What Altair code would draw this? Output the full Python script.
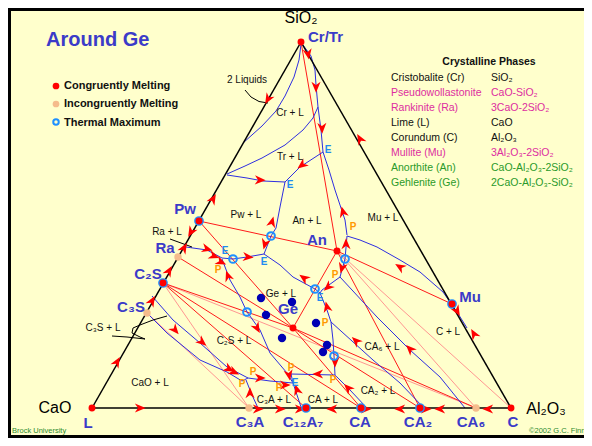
import altair as alt
import pandas as pd

# ---------------- data (pixel-space positions) ----------------
cmp_name = ["CrTr", "L", "C", "An", "Ge", "Pw", "Ra", "C2S", "C3S", "C3A", "C12A7", "CA", "CA2", "CA6", "Mu"]
cmp_x = [301, 92, 511, 337, 293, 199, 178, 163, 147, 249, 306, 361, 420, 476, 452]
cmp_y = [42, 408, 408, 251, 328, 221, 257, 283, 313, 408, 408, 408, 408, 408, 304]
P = {n: (x, y) for n, x, y in zip(cmp_name, cmp_x, cmp_y)}

congruent = ["CrTr", "L", "C", "An", "Ge", "Pw", "C2S", "C12A7", "CA", "CA2", "Mu"]
incongruent = ["Ra", "C3S", "C3A", "CA6"]
ringed = ["Pw", "C2S", "C12A7", "CA", "CA2", "Mu"]

thermal_x = [271, 233, 247, 315, 345, 334]
thermal_y = [236, 259, 312, 289, 259, 356]

tie_dark = [("CrTr", "An"), ("Pw", "An"), ("Pw", "Ge"), ("An", "Ge"), ("Ra", "Ge"), ("C2S", "Ge"),
            ("C2S", "CA"), ("C2S", "C12A7"), ("Ge", "CA"), ("Ge", "CA2"), ("Ge", "CA6"), ("An", "Mu"),
            ("An", "CA2")]
tie_light = [("C2S", "C3A"), ("C3S", "C3A"), ("An", "CA6"), ("An", "C"), ("C2S", "CA6")]

triangle = [("L", "CrTr"), ("CrTr", "C"), ("L", "C")]

blue_curves = [
    [(301, 44), (299, 60), (294, 77), (285, 96), (276, 111), (262, 126), (243, 143)],
    [(227, 174), (245, 166), (262, 158), (285, 145), (303, 130), (313, 118), (318, 107)],
    [(303, 45), (311, 56), (315, 70), (316, 85), (318, 107), (321, 130), (323, 152), (329, 170),
     (335, 190), (340, 205), (345, 220), (347, 235)],
    [(323, 152), (300, 167), (285, 182)],
    [(227, 175), (247, 178), (263, 181), (285, 182)],
    [(285, 182), (280, 207), (276, 228), (271, 236), (264, 254)],
    [(347, 236), (360, 240), (377, 247), (400, 260), (420, 272), (443, 292), (457, 312), (467, 328)],
    [(347, 236), (345, 259), (340, 277)],
    [(340, 277), (322, 290), (320, 293)],
    [(340, 277), (377, 317), (410, 350), (440, 377), (465, 408)],
    [(320, 293), (327, 310), (331, 322), (333, 340), (334, 356), (335, 375)],
    [(331, 322), (373, 360), (400, 383), (423, 407)],
    [(335, 375), (350, 390), (366, 407)],
    [(335, 375), (291, 374), (293, 383)],
    [(293, 383), (297, 395), (301, 407)],
    [(264, 254), (280, 265), (293, 277), (315, 289), (320, 293)],
    [(186, 247), (207, 250), (222, 258), (233, 259), (247, 257), (264, 254)],
    [(222, 259), (230, 280), (240, 297), (247, 312), (260, 330), (270, 353), (287, 373), (293, 383)],
    [(152, 296), (173, 320), (200, 343), (227, 367), (248, 378), (270, 381), (293, 383)],
    [(147, 313), (167, 333), (200, 360), (227, 372), (242, 381), (248, 378)],
    [(246, 380), (252, 395), (258, 408)],
]

black_leaders = [
    [(245, 90), (251, 97), (259, 101.5), (268, 103)],
    [(170, 239), (192, 247)],
    [(112, 336), (127, 337), (145, 339), (140, 337), (132, 333), (133, 328), (140, 325), (153, 320), (167, 316)],
]

arrow_x = [308, 316, 322, 268, 360, 260, 302, 213, 272, 343, 191, 184, 169, 152, 117, 140,
           207, 214, 221, 228, 248, 265,
           304, 328, 327, 346, 342, 400, 257, 335, 318, 289, 297, 348, 356, 410, 457, 474,
           175, 202, 229, 234, 260, 250, 285,
           258, 280, 300, 332, 366, 400, 426, 440, 488]
arrow_y = [54, 87, 128, 99, 139, 180, 165, 199, 222, 212, 232, 248, 271, 301, 362, 408,
           249, 256, 262, 276, 257, 244,
           278, 287, 307, 244, 268, 267, 328, 362, 374, 375, 390, 388, 341, 349, 311, 334,
           330, 342, 369, 372, 378, 393, 385,
           409, 409, 409, 409, 409, 409, 409, 409, 409]
arrow_angle = [170, 180, 178, 210, 330, 92, 232, 30, 15, 345, 210, 30, 30, 30, 30, 90,
               105, 110, 115, 340, 95, 195,
               305, 228, 347, 0, 195, 302, 150, 180, 270, 170, 342, 316, 313, 316, 150, 330,
               140, 130, 120, 115, 90, 0, 90,
               90, 90, 90, 270, 90, 270, 90, 270, 270]

dot_x = [261, 292, 266, 316, 282, 327, 323]
dot_y = [298, 302, 315, 323, 338, 345, 352]

field_text = ["2 Liquids", "Cr + L", "Tr + L", "Pw + L", "An + L", "Mu + L", "Ra + L", "Ge + L",
              "C\u2083S + L", "C\u2082S + L", "CaO + L", "C\u2083A + L", "CA + L", "CA\u2082 + L",
              "CA\u2086 + L", "C + L"]
field_x = [247, 290, 290, 246, 307, 383, 167, 281, 103, 234, 150, 274, 323, 378, 382, 448]
field_y = [80, 113, 157, 215, 221, 218, 232, 294, 328, 341, 383, 400, 400, 391, 347, 332]

p_x = [218, 353, 335, 325, 333, 291, 253, 242, 279]
p_y = [270, 227, 275, 323, 380, 368, 372, 384, 388]
e_x = [328, 290, 225, 264, 320, 295]
e_y = [150, 185, 251, 262, 298, 383]

cmp_label = ["Cr/Tr", "Pw", "Ra", "C\u2082S", "C\u2083S", "An", "Ge", "Mu", "L", "C\u2083A",
             "C\u2081\u2082A\u2087", "CA", "CA\u2082", "CA\u2086", "C"]
cmp_lx = [308, 185, 165, 148, 131, 317, 288, 470, 88, 250, 303, 360, 418, 471, 513]
cmp_ly = [37, 209, 248, 274, 307, 240, 309, 297, 423, 422, 422, 422, 422, 422, 422]
cmp_la = ["left"] + ["center"] * 14

vert_text = ["SiO\u2082", "CaO", "Al\u2082O\u2083"]
vert_x = [301, 55, 546]
vert_y = [18, 408, 409]

legend_text = ["Congruently Melting", "Incongruently Melting", "Thermal Maximum"]
legend_y = [86, 104, 123]

phase_names = ["Cristobalite (Cr)", "Pseudowollastonite", "Rankinite (Ra)", "Lime (L)",
               "Corundum (C)", "Mullite (Mu)", "Anorthite (An)", "Gehlenite (Ge)"]
phase_formula = ["SiO\u2082", "CaO-SiO\u2082", "3CaO-2SiO\u2082", "CaO", "Al\u2082O\u2083",
                 "3Al\u2082O\u2083-2SiO\u2082", "CaO-Al\u2082O\u2083-2SiO\u2082",
                 "2CaO-Al\u2082O\u2083-SiO\u2082"]
phase_color = ["#111111", "#DD2DA0", "#DD2DA0", "#111111", "#111111", "#DD2DA0", "#2A9A2A", "#2A9A2A"]
phase_y = [78, 93, 108, 123, 138, 153, 168, 183]

# ---------------- chart ----------------
W, H = 576, 430
FONT = "Liberation Sans"
xs = alt.Scale(domain=[8, 8 + W], nice=False, zero=False)
ys = alt.Scale(domain=[8, 8 + H], nice=False, zero=False, reverse=True)


def base(df):
    return alt.Chart(df).encode(
        x=alt.X("x:Q", scale=xs, axis=None),
        y=alt.Y("y:Q", scale=ys, axis=None),
    )


def seg_df(pairs):
    rows = []
    for i, (a, b) in enumerate(pairs):
        rows.append({"id": i, "k": 0, "x": P[a][0], "y": P[a][1]})
        rows.append({"id": i, "k": 1, "x": P[b][0], "y": P[b][1]})
    return pd.DataFrame(rows)


def poly_df(polys):
    rows = []
    for i, pl in enumerate(polys):
        for k, (x, y) in enumerate(pl):
            rows.append({"id": i, "k": k, "x": x, "y": y})
    return pd.DataFrame(rows)


def lines(df, color, width):
    return base(df).mark_line(color=color, strokeWidth=width).encode(
        detail="id:N", order="k:O")


layers = []
layers.append(lines(seg_df(tie_light), "#FF8A8A", 0.9))
layers.append(lines(seg_df(tie_dark), "#FF1A1A", 1.0))
layers.append(lines(poly_df(blue_curves), "#2E2EE0", 1.0))
layers.append(lines(seg_df(triangle), "#000000", 1.5))
layers.append(lines(poly_df(black_leaders), "#000000", 1.0))

arrow_shape = "M0,-1L0.8,0.9L0,0.35L-0.8,0.9Z"
adf = pd.DataFrame({"x": arrow_x, "y": arrow_y, "a": arrow_angle})
layers.append(base(adf).mark_point(shape=arrow_shape, filled=True, color="#FF0000", size=130,
                                   opacity=1, strokeWidth=0).encode(angle=alt.Angle("a:Q", scale=None)))

layers.append(base(pd.DataFrame({"x": dot_x, "y": dot_y})).mark_circle(
    color="#0000B4", size=70, opacity=1))

ring_df = pd.DataFrame({"x": [P[n][0] for n in ringed] + thermal_x,
                        "y": [P[n][1] for n in ringed] + thermal_y})
layers.append(base(ring_df).mark_point(shape="circle", filled=False, color="#1E90FF",
                                       strokeWidth=2, size=60, opacity=1))
layers.append(base(pd.DataFrame({"x": [P[n][0] for n in congruent],
                                 "y": [P[n][1] for n in congruent]})).mark_circle(
    color="#FF0000", size=48, opacity=1))
layers.append(base(pd.DataFrame({"x": [P[n][0] for n in incongruent],
                                 "y": [P[n][1] for n in incongruent]})).mark_circle(
    color="#F5BC8C", size=55, opacity=1))


def texts(df, **kw):
    params = dict(font=FONT, baseline="middle")
    params.update(kw)
    return base(df).mark_text(**params).encode(text="t:N")


layers.append(texts(pd.DataFrame({"x": field_x, "y": field_y, "t": field_text}),
                    fontSize=10, color="#111111"))
layers.append(texts(pd.DataFrame({"x": p_x, "y": p_y, "t": ["P"] * len(p_x)}),
                    fontSize=10, fontWeight="bold", color="#FF9900"))
layers.append(texts(pd.DataFrame({"x": e_x, "y": e_y, "t": ["E"] * len(e_x)}),
                    fontSize=10, fontWeight="bold", color="#1E8CF0"))
cdf = pd.DataFrame({"x": cmp_lx, "y": cmp_ly, "t": cmp_label, "al": cmp_la})
layers.append(texts(cdf[cdf.al == "left"], fontSize=15, fontWeight="bold", color="#3B3BC8", align="left"))
layers.append(texts(cdf[cdf.al == "center"], fontSize=15, fontWeight="bold", color="#3B3BC8", align="center"))
layers.append(texts(pd.DataFrame({"x": vert_x, "y": vert_y, "t": vert_text}),
                    fontSize=16, color="#000000"))

# title and legend
layers.append(texts(pd.DataFrame({"x": [46], "y": [40], "t": ["Around Ge"]}),
                    fontSize=20, fontWeight="bold", color="#3B3BC8", align="left"))
layers.append(base(pd.DataFrame({"x": [56], "y": [86]})).mark_circle(color="#FF0000", size=45, opacity=1))
layers.append(base(pd.DataFrame({"x": [56], "y": [104]})).mark_circle(color="#F5BC8C", size=45, opacity=1))
layers.append(base(pd.DataFrame({"x": [56], "y": [122]})).mark_point(
    shape="circle", filled=False, color="#1E90FF", strokeWidth=2, size=30, opacity=1))
layers.append(texts(pd.DataFrame({"x": [64] * 3, "y": legend_y, "t": legend_text}),
                    fontSize=11, fontWeight="bold", color="#111111", align="left"))

# crystalline phases table
layers.append(texts(pd.DataFrame({"x": [489], "y": [62], "t": ["Crystalline Phases"]}),
                    fontSize=10.5, fontWeight="bold", color="#111111"))
tdf = pd.DataFrame({"x": [391] * 8, "y": phase_y, "t": phase_names, "c": phase_color})
fdf = pd.DataFrame({"x": [491] * 8, "y": phase_y, "t": phase_formula, "c": phase_color})
for d in (tdf, fdf):
    layers.append(base(d).mark_text(font=FONT, fontSize=10.5, align="left", baseline="middle").encode(
        text="t:N", color=alt.Color("c:N", scale=None)))

# footer
layers.append(texts(pd.DataFrame({"x": [12], "y": [431], "t": ["Brock University"]}),
                    fontSize=7.5, color="#2E8B2E", align="left"))
layers.append(texts(pd.DataFrame({"x": [529], "y": [431], "t": ["\u00a92002 G.C. Finn"]}),
                    fontSize=7.5, color="#2E8B2E", align="left"))

# frame (top, left, bottom)
one = pd.DataFrame({"a": [0]})
layers.append(alt.Chart(one).mark_rule(color="#000000", strokeWidth=3).encode(
    x=alt.value(0), x2=alt.value(W), y=alt.value(1.5)))
layers.append(alt.Chart(one).mark_rule(color="#000000", strokeWidth=3).encode(
    x=alt.value(1.5), y=alt.value(0), y2=alt.value(H)))
layers.append(alt.Chart(one).mark_rule(color="#000000", strokeWidth=3).encode(
    x=alt.value(0), x2=alt.value(W), y=alt.value(H - 1.5)))

chart = alt.layer(*layers).properties(
    width=W, height=H, padding=0, autosize=alt.AutoSizeParams(type="none"),
    background="#FFFFCC",
).configure_view(strokeWidth=0)

chart.save("out.html", embed_options={"renderer": "svg", "actions": False})
